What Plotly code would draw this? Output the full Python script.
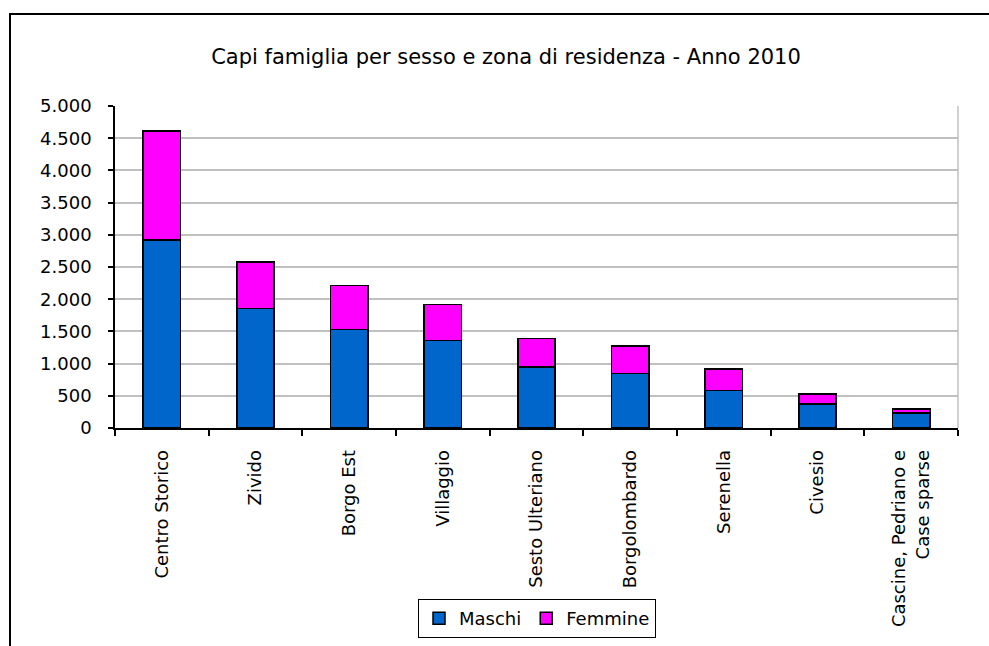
import plotly.graph_objects as go

categories = ["Centro Storico", "Zivido", "Borgo Est", "Villaggio", "Sesto Ulteriano",
              "Borgolombardo", "Serenella", "Civesio", "Cascine, Pedriano e<br>Case sparse"]
maschi = [2920, 1855, 1530, 1360, 945, 850, 585, 375, 232]
totale = [4615, 2575, 2215, 1920, 1390, 1272, 915, 530, 294]
femmine = [t - m for t, m in zip(totale, maschi)]
y_ticks = [0, 500, 1000, 1500, 2000, 2500, 3000, 3500, 4000, 4500, 5000]
y_labels = ["0", "500", "1.000", "1.500", "2.000", "2.500", "3.000", "3.500", "4.000", "4.500", "5.000"]

FONT = "DejaVu Sans"

fig = go.Figure()
fig.add_trace(go.Bar(x=categories, y=maschi, name="Maschi",
                     marker=dict(color="#0066CC", line=dict(color="black", width=1.5))))
fig.add_trace(go.Bar(x=categories, y=femmine, name="Femmine",
                     marker=dict(color="#FF00FF", line=dict(color="black", width=1.5))))

L, R, T, B = 115, 31, 106, 218
W, H = 989, 646
pw = W - L - R
ph = H - T - B

fig.update_layout(
    width=W, height=H,
    barmode="stack", bargap=0.6,
    paper_bgcolor="white", plot_bgcolor="white",
    margin=dict(l=L, r=R, t=T, b=B, pad=0, autoexpand=False),
    font=dict(family=FONT, size=18, color="black"),
    title=dict(text="Capi famiglia per sesso e zona di residenza - Anno 2010",
               x=506 / W, xanchor="center", xref="container",
               y=1 - 57 / H, yanchor="middle", yref="container",
               font=dict(family=FONT, size=21, color="black")),
    showlegend=True,
    legend=dict(orientation="h", x=0.5006, xanchor="center", y=(H - B - 599) / ph, yanchor="top",
                bordercolor="black", borderwidth=1, bgcolor="white",
                font=dict(family=FONT, size=18), itemwidth=30, traceorder="normal"),
    xaxis=dict(type="category", showline=True, linecolor="black", linewidth=1.5,
               ticks="outside", tickson="boundaries", ticklen=6, tickcolor="black", tickwidth=1.5,
               tickangle=-90, showgrid=False, ticklabelstandoff=13,
               tickfont=dict(family=FONT, size=18)),
    yaxis=dict(range=[0, 5000], tickvals=y_ticks, ticktext=y_labels,
               showline=True, linecolor="black", linewidth=1.5,
               ticks="outside", ticklen=5, tickcolor="black", tickwidth=1.5,
               showgrid=True, gridcolor="#c0c0c0", gridwidth=1.5,
               ticklabelstandoff=13, zeroline=False,
               tickfont=dict(family=FONT, size=18)),
    shapes=[
        dict(type="line", xref="paper", yref="paper", x0=1, x1=1, y0=0, y1=1,
             line=dict(color="#c0c0c0", width=1.5)),
        dict(type="rect", xref="paper", yref="paper",
             x0=(10 - L) / pw, x1=(1100 - L) / pw, y0=(H - B - 800) / ph, y1=(H - B - 14) / ph,
             line=dict(color="black", width=2), fillcolor="rgba(0,0,0,0)", layer="below"),
    ],
)

fig.write_html("out.html", config={"displayModeBar": False},
               post_script="document.body.style.margin='0';")
